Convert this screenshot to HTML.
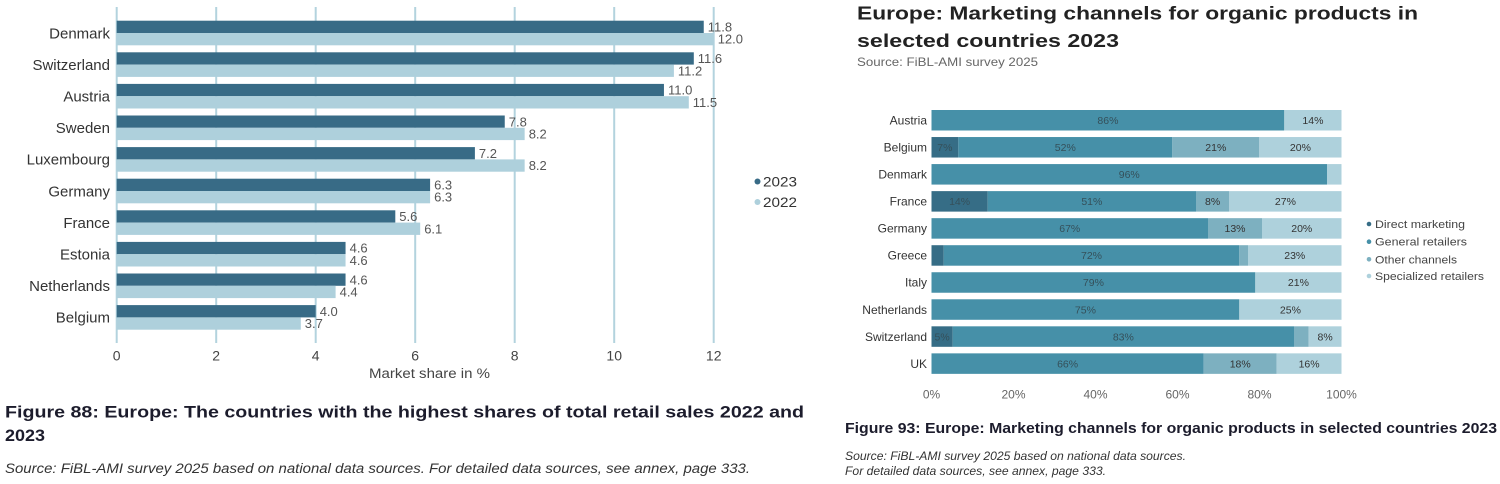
<!DOCTYPE html>
<html><head><meta charset="utf-8"><style>
html,body{margin:0;padding:0;background:#fff;}
svg{display:block;}
text{font-family:"Liberation Sans",Arial,sans-serif;}
</style></head><body>
<svg width="1500" height="484" viewBox="0 0 1500 484" xmlns="http://www.w3.org/2000/svg">
<rect width="1500" height="484" fill="#fff"/>
<!-- LEFT CHART gridlines -->
<g stroke="#b3d3de" stroke-width="2">
<line x1="116.7" y1="7" x2="116.7" y2="343"/>
<line x1="216.2" y1="7" x2="216.2" y2="343"/>
<line x1="315.7" y1="7" x2="315.7" y2="343"/>
<line x1="415.2" y1="7" x2="415.2" y2="343"/>
<line x1="514.7" y1="7" x2="514.7" y2="343"/>
<line x1="614.2" y1="7" x2="614.2" y2="343"/>
<line x1="713.7" y1="7" x2="713.7" y2="343"/>
</g>
<!-- bars -->
<g>
<rect x="116.7" y="20.7" width="587.05" height="12.3" fill="#386b86"/>
<rect x="116.7" y="33" width="597" height="12.3" fill="#aed0dc"/>
<rect x="116.7" y="52.3" width="577.1" height="12.3" fill="#386b86"/>
<rect x="116.7" y="64.6" width="557.2" height="12.3" fill="#aed0dc"/>
<rect x="116.7" y="83.9" width="547.25" height="12.3" fill="#386b86"/>
<rect x="116.7" y="96.2" width="572.1" height="12.3" fill="#aed0dc"/>
<rect x="116.7" y="115.5" width="388.05" height="12.3" fill="#386b86"/>
<rect x="116.7" y="127.8" width="407.95" height="12.3" fill="#aed0dc"/>
<rect x="116.7" y="147.1" width="358.2" height="12.3" fill="#386b86"/>
<rect x="116.7" y="159.4" width="407.95" height="12.3" fill="#aed0dc"/>
<rect x="116.7" y="178.7" width="313.4" height="12.3" fill="#386b86"/>
<rect x="116.7" y="191" width="313.4" height="12.3" fill="#aed0dc"/>
<rect x="116.7" y="210.3" width="278.6" height="12.3" fill="#386b86"/>
<rect x="116.7" y="222.6" width="303.5" height="12.3" fill="#aed0dc"/>
<rect x="116.7" y="241.9" width="228.85" height="12.3" fill="#386b86"/>
<rect x="116.7" y="254.2" width="228.85" height="12.3" fill="#aed0dc"/>
<rect x="116.7" y="273.5" width="228.85" height="12.3" fill="#386b86"/>
<rect x="116.7" y="285.8" width="218.9" height="12.3" fill="#aed0dc"/>
<rect x="116.7" y="305.1" width="199" height="12.3" fill="#386b86"/>
<rect x="116.7" y="317.4" width="184.1" height="12.3" fill="#aed0dc"/>
</g>
<!-- country labels -->
<g font-size="15" fill="#333" text-anchor="end">
<text x="110" y="38.3">Denmark</text>
<text x="110" y="69.9">Switzerland</text>
<text x="110" y="101.5">Austria</text>
<text x="110" y="133.1">Sweden</text>
<text x="110" y="164.7">Luxembourg</text>
<text x="110" y="196.3">Germany</text>
<text x="110" y="227.9">France</text>
<text x="110" y="259.5">Estonia</text>
<text x="110" y="291.1">Netherlands</text>
<text x="110" y="322.7">Belgium</text>
</g>
<!-- value labels -->
<g font-size="13" fill="#555">
<text x="707.8" y="31.5">11.8</text><text x="717.7" y="43.7">12.0</text>
<text x="697.8" y="63.1">11.6</text><text x="677.9" y="75.3">11.2</text>
<text x="668" y="94.7">11.0</text><text x="692.8" y="106.9">11.5</text>
<text x="508.8" y="126.3">7.8</text><text x="528.7" y="138.5">8.2</text>
<text x="478.9" y="157.9">7.2</text><text x="528.7" y="170.1">8.2</text>
<text x="434.1" y="189.5">6.3</text><text x="434.1" y="201.7">6.3</text>
<text x="399.3" y="221.1">5.6</text><text x="424.2" y="233.3">6.1</text>
<text x="349.6" y="252.7">4.6</text><text x="349.6" y="264.9">4.6</text>
<text x="349.6" y="284.3">4.6</text><text x="339.6" y="296.5">4.4</text>
<text x="319.7" y="315.9">4.0</text><text x="304.8" y="328.1">3.7</text>
</g>
<!-- x ticks -->
<g font-size="14" fill="#444" text-anchor="middle">
<text x="116.7" y="360.7">0</text>
<text x="216.2" y="360.7">2</text>
<text x="315.7" y="360.7">4</text>
<text x="415.2" y="360.7">6</text>
<text x="514.7" y="360.7">8</text>
<text x="614.2" y="360.7">10</text>
<text x="713.7" y="360.7">12</text>
</g>
<text x="369" y="378" font-size="13.5" fill="#444" textLength="121" lengthAdjust="spacingAndGlyphs">Market share in %</text>
<!-- left legend -->
<circle cx="757.5" cy="181.5" r="3" fill="#386b86"/>
<text x="763" y="186.5" font-size="14" fill="#333" textLength="34" lengthAdjust="spacingAndGlyphs">2023</text>
<circle cx="757.5" cy="202" r="3" fill="#aed0dc"/>
<text x="763" y="207" font-size="14" fill="#333" textLength="34" lengthAdjust="spacingAndGlyphs">2022</text>
<!-- left caption -->
<text x="5" y="417.5" font-size="16.5" font-weight="bold" fill="#1c1c2c" textLength="799" lengthAdjust="spacingAndGlyphs">Figure 88: Europe: The countries with the highest shares of total retail sales 2022 and</text>
<text x="5" y="441" font-size="16.5" font-weight="bold" fill="#1c1c2c" textLength="40" lengthAdjust="spacingAndGlyphs">2023</text>
<text x="5" y="473" font-size="13.5" font-style="italic" fill="#333" textLength="745" lengthAdjust="spacingAndGlyphs">Source: FiBL-AMI survey 2025 based on national data sources. For detailed data sources, see annex, page 333.</text>

<!-- RIGHT CHART -->
<text x="857" y="19.5" font-size="18.5" font-weight="bold" fill="#222" textLength="561" lengthAdjust="spacingAndGlyphs">Europe: Marketing channels for organic products in</text>
<text x="857" y="46.8" font-size="18.5" font-weight="bold" fill="#222" textLength="262" lengthAdjust="spacingAndGlyphs">selected countries 2023</text>
<text x="857" y="65.8" font-size="12" fill="#666" textLength="181" lengthAdjust="spacingAndGlyphs">Source: FiBL-AMI survey 2025</text>

<g>
<!-- Austria -->
<rect x="931.5" y="110" width="352.8" height="20.5" fill="#4690a8"/>
<rect x="1284.3" y="110" width="57.2" height="20.5" fill="#aed1dc"/>
<!-- Belgium -->
<rect x="931.5" y="137.04" width="26.8" height="20.5" fill="#366d86"/>
<rect x="958.3" y="137.04" width="214" height="20.5" fill="#4690a8"/>
<rect x="1172.3" y="137.04" width="87" height="20.5" fill="#7db0c0"/>
<rect x="1259.3" y="137.04" width="82.2" height="20.5" fill="#aed1dc"/>
<!-- Denmark -->
<rect x="931.5" y="164.08" width="395.5" height="20.5" fill="#4690a8"/>
<rect x="1327" y="164.08" width="14.5" height="20.5" fill="#aed1dc"/>
<!-- France -->
<rect x="931.5" y="191.12" width="56.2" height="20.5" fill="#366d86"/>
<rect x="987.7" y="191.12" width="208.3" height="20.5" fill="#4690a8"/>
<rect x="1196" y="191.12" width="33.3" height="20.5" fill="#7db0c0"/>
<rect x="1229.3" y="191.12" width="112.2" height="20.5" fill="#aed1dc"/>
<!-- Germany -->
<rect x="931.5" y="218.16" width="276.5" height="20.5" fill="#4690a8"/>
<rect x="1208" y="218.16" width="54" height="20.5" fill="#7db0c0"/>
<rect x="1262" y="218.16" width="79.5" height="20.5" fill="#aed1dc"/>
<!-- Greece -->
<rect x="931.5" y="245.2" width="12.2" height="20.5" fill="#366d86"/>
<rect x="943.7" y="245.2" width="295.6" height="20.5" fill="#4690a8"/>
<rect x="1239.3" y="245.2" width="8.7" height="20.5" fill="#7db0c0"/>
<rect x="1248" y="245.2" width="93.5" height="20.5" fill="#aed1dc"/>
<!-- Italy -->
<rect x="931.5" y="272.24" width="323.8" height="20.5" fill="#4690a8"/>
<rect x="1255.3" y="272.24" width="86.2" height="20.5" fill="#aed1dc"/>
<!-- Netherlands -->
<rect x="931.5" y="299.28" width="307.8" height="20.5" fill="#4690a8"/>
<rect x="1239.3" y="299.28" width="102.2" height="20.5" fill="#aed1dc"/>
<!-- Switzerland -->
<rect x="931.5" y="326.32" width="21.2" height="20.5" fill="#366d86"/>
<rect x="952.7" y="326.32" width="341.3" height="20.5" fill="#4690a8"/>
<rect x="1294" y="326.32" width="14.7" height="20.5" fill="#7db0c0"/>
<rect x="1308.7" y="326.32" width="32.8" height="20.5" fill="#aed1dc"/>
<!-- UK -->
<rect x="931.5" y="353.36" width="272.2" height="20.5" fill="#4690a8"/>
<rect x="1203.7" y="353.36" width="73" height="20.5" fill="#7db0c0"/>
<rect x="1276.7" y="353.36" width="64.8" height="20.5" fill="#aed1dc"/>
</g>
<!-- segment labels -->
<g font-size="10.5" fill="#35505a" text-anchor="middle">
<text x="1107.9" y="124">86%</text><text x="1312.9" y="124" fill="#333">14%</text>
<text x="944.9" y="151">7%</text><text x="1065.3" y="151">52%</text><text x="1215.8" y="151" fill="#333">21%</text><text x="1300.4" y="151" fill="#333">20%</text>
<text x="1129.25" y="178.1">96%</text>
<text x="959.6" y="205.1">14%</text><text x="1091.85" y="205.1">51%</text><text x="1212.65" y="205.1" fill="#333">8%</text><text x="1285.4" y="205.1" fill="#333">27%</text>
<text x="1069.75" y="232.2">67%</text><text x="1235" y="232.2" fill="#333">13%</text><text x="1301.75" y="232.2" fill="#333">20%</text>
<text x="1091.5" y="259.2">72%</text><text x="1294.75" y="259.2" fill="#333">23%</text>
<text x="1093.4" y="286.2">79%</text><text x="1298.4" y="286.2" fill="#333">21%</text>
<text x="1085.4" y="313.3">75%</text><text x="1290.4" y="313.3" fill="#333">25%</text>
<text x="942.1" y="340.3">5%</text><text x="1123.35" y="340.3">83%</text><text x="1325.1" y="340.3" fill="#333">8%</text>
<text x="1067.6" y="367.4">66%</text><text x="1240.2" y="367.4" fill="#333">18%</text><text x="1309.1" y="367.4" fill="#333">16%</text>
</g>
<!-- right country labels -->
<g font-size="12" fill="#333" text-anchor="end">
<text x="927" y="124.5">Austria</text>
<text x="927" y="151.5">Belgium</text>
<text x="927" y="178.6">Denmark</text>
<text x="927" y="205.6">France</text>
<text x="927" y="232.7">Germany</text>
<text x="927" y="259.7">Greece</text>
<text x="927" y="286.7">Italy</text>
<text x="927" y="313.8">Netherlands</text>
<text x="927" y="340.8">Switzerland</text>
<text x="927" y="367.9">UK</text>
</g>
<!-- right x ticks -->
<g font-size="12" fill="#666" text-anchor="middle">
<text x="931.5" y="398.3">0%</text>
<text x="1013.5" y="398.3">20%</text>
<text x="1095.5" y="398.3">40%</text>
<text x="1177.5" y="398.3">60%</text>
<text x="1259.5" y="398.3">80%</text>
<text x="1341.5" y="398.3">100%</text>
</g>
<!-- right legend -->
<circle cx="1369" cy="224" r="2.3" fill="#366d86"/>
<text x="1375" y="228" font-size="11" fill="#444" textLength="90" lengthAdjust="spacingAndGlyphs">Direct marketing</text>
<circle cx="1369" cy="241.7" r="2.3" fill="#4690a8"/>
<text x="1375" y="245.7" font-size="11" fill="#444" textLength="92" lengthAdjust="spacingAndGlyphs">General retailers</text>
<circle cx="1369" cy="259.3" r="2.3" fill="#7db0c0"/>
<text x="1375" y="263.3" font-size="11" fill="#444" textLength="82" lengthAdjust="spacingAndGlyphs">Other channels</text>
<circle cx="1369" cy="276" r="2.3" fill="#aed1dc"/>
<text x="1375" y="280" font-size="11" fill="#444" textLength="109" lengthAdjust="spacingAndGlyphs">Specialized retailers</text>
<!-- right caption -->
<text x="845" y="433" font-size="15" font-weight="bold" fill="#1c1c2c" textLength="652" lengthAdjust="spacingAndGlyphs">Figure 93: Europe: Marketing channels for organic products in selected countries 2023</text>
<text x="845" y="460" font-size="11.5" font-style="italic" fill="#333" textLength="341" lengthAdjust="spacingAndGlyphs">Source: FiBL-AMI survey 2025 based on national data sources.</text>
<text x="845" y="475" font-size="11.5" font-style="italic" fill="#333" textLength="261" lengthAdjust="spacingAndGlyphs">For detailed data sources, see annex, page 333.</text>
</svg>
</body></html>
